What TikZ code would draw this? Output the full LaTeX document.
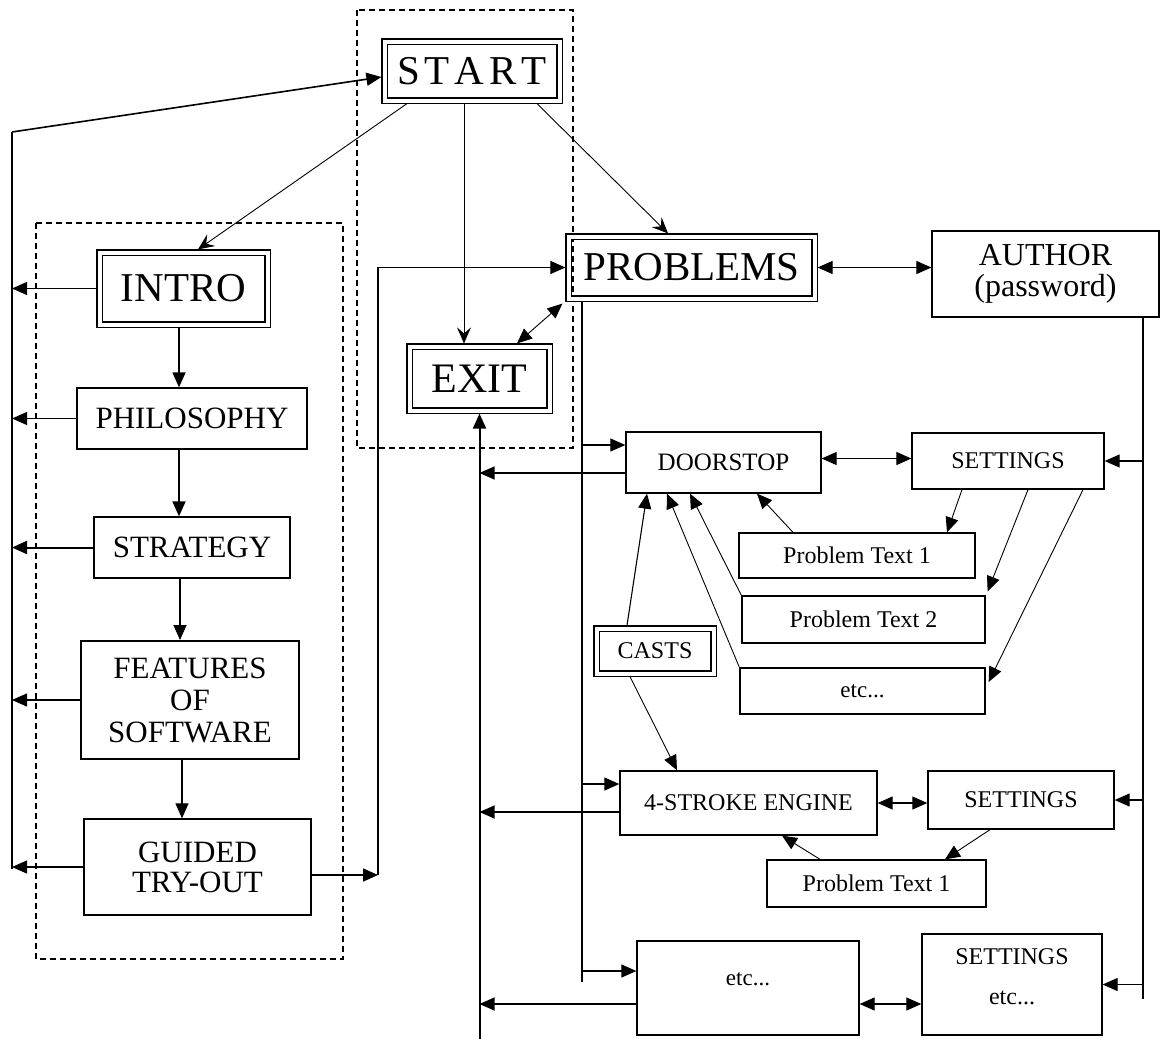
\documentclass[tikz,border=0pt]{standalone}
\usepackage{fontspec}
\setmainfont{Liberation Serif}
\usetikzlibrary{arrows.meta}
\begin{document}
\begin{tikzpicture}[x=1pt,y=-1pt,
  box/.style={draw, line width=1.3pt, inner sep=0pt, align=center, font=\fontsize{24}{32}\selectfont},
  midbox/.style={box, font=\fontsize{31}{32}\selectfont},
  dbl/.style={draw, double, double distance=4pt, line width=1.1pt, inner sep=0pt, outer sep=3.1pt, align=center, font=\fontsize{41}{44}\selectfont},
  arr/.style={-{Triangle[length=15pt,width=13pt]}, line width=1.1pt},
  barr/.style={{Triangle[length=15pt,width=13pt]}-{Triangle[length=15pt,width=13pt]}, line width=1.1pt},
  sarr/.style={-{Stealth[length=16pt,width=14pt,inset=6pt]}, line width=0.9pt},
  bus/.style={line width=2pt},
  zone/.style={draw, dash pattern=on 6pt off 4pt, line width=1.3pt}
]
\fill[white] (0,0) rectangle (1160,1039);
\useasboundingbox (0,0) rectangle (1160,1039);

% dashed zones
\draw[zone] (357,10) rectangle (573,448);
\draw[zone] (36,223) rectangle (343,959);

% double boxes
\node[dbl, minimum width=175pt, minimum height=59pt] (START) at (472,71) {S\kern5pt T\kern5pt A\kern5pt R\kern5pt T};
\node[dbl, minimum width=168pt, minimum height=72pt] (INTRO) at (183.5,288.5) {INTRO};
\node[dbl, minimum width=246pt, minimum height=62pt] (PROBLEMS) at (691.5,267.5) {PROBLEMS};
\node[dbl, minimum width=140pt, minimum height=64pt, font=\fontsize{42}{44}\selectfont] (EXIT) at (479.5,378.5) {EXIT};
\node[dbl, minimum width=117pt, minimum height=45pt, font=\fontsize{24}{28}\selectfont] (CASTS) at (655,651) {CASTS};

% left column
\node[midbox, minimum width=230pt, minimum height=61pt] (PHIL) at (192,418.5) {PHILOSOPHY};
\node[midbox, minimum width=196pt, minimum height=61pt] (STRAT) at (192,547.5) {STRATEGY};
\node[midbox, line width=2pt, minimum width=218pt, minimum height=118pt] (FEAT) at (190,700) {FEATURES\\OF\\SOFTWARE};
\node[midbox, font=\fontsize{31}{30}\selectfont, minimum width=227pt, minimum height=96pt] (GUIDED) at (197.5,867) {GUIDED\\TRY-OUT};

% right part
\node[box, font=\fontsize{32}{31}\selectfont, minimum width=227pt, minimum height=86pt] (AUTHOR) at (1045.5,274) {AUTHOR\\(password)};
\node[box, font=\fontsize{25}{30}\selectfont, minimum width=195pt, minimum height=61pt] (DOOR) at (723.5,462.5) {DOORSTOP};
\node[box, minimum width=192pt, minimum height=56pt] (S1) at (1008,461) {SETTINGS};
\node[box, minimum width=236pt, minimum height=45pt] (PT1) at (857,555.5) {Problem Text 1};
\node[box, minimum width=243pt, minimum height=47pt] (PT2) at (863.5,619.5) {Problem Text 2};
\node[box, minimum width=245pt, minimum height=46pt, font=\fontsize{23}{30}\selectfont] (ETC1) at (862.5,691) {etc...};
\node[box, minimum width=257pt, minimum height=64pt] (STROKE) at (748.5,803) {4-STROKE ENGINE};
\node[box, minimum width=186pt, minimum height=58pt] (S2) at (1021,800) {SETTINGS};
\node[box, minimum width=219pt, minimum height=47pt] (PT1B) at (876.5,883.5) {Problem Text 1};
\node[box, minimum width=222pt, minimum height=94pt, font=\fontsize{23}{30}\selectfont] (ETC2) at (748,988) {\raisebox{9pt}[\height][\depth]{etc...}};
\node[box, minimum width=180pt, minimum height=101pt] (S3) at (1012,984.5) {\raisebox{6.5pt}[\height][\depth]{\begin{tabular}{@{}c@{}}SETTINGS\\[8pt]etc...\end{tabular}}};

% bus coordinates
\coordinate (busTop) at (12,132);
\coordinate (busBot) at (12,869);
\coordinate (jL) at (378,875);
\coordinate (pBot) at (582,982);
\coordinate (eBot) at (479.5,1039);
\coordinate (aBot) at (1143,999);

% left bus
\draw[bus] (busBot) -- (busTop);
\draw[arr, line width=1.6pt] (busTop) -- ([yshift=-6pt]START.west);
\draw[arr] (INTRO.west) -- (INTRO.west -| busTop);
\draw[arr] (PHIL.west) -- (PHIL.west -| busTop);
\draw[arr, line width=2pt] (STRAT.west) -- (STRAT.west -| busTop);
\draw[arr] (FEAT.west) -- (FEAT.west -| busTop);
\draw[arr] (GUIDED.west) -- (GUIDED.west -| busTop);

% left column flow
\draw[arr, line width=1.6pt] ([xshift=-4.5pt]INTRO.south) -- ([xshift=-4.5pt]INTRO.south |- PHIL.north);
\draw[arr, line width=1.6pt] ([xshift=-13pt]PHIL.south) -- ([xshift=-13pt]PHIL.south |- STRAT.north);
\draw[arr] ([xshift=-12pt]STRAT.south) -- ([xshift=-12pt]STRAT.south |- FEAT.north);
\draw[arr] ([xshift=-8pt]FEAT.south) -- ([xshift=-8pt]FEAT.south |- GUIDED.north);
\draw[arr, line width=1.6pt] ([yshift=-8pt]GUIDED.east) -- (jL);
\draw[arr] (jL) |- (PROBLEMS.west);

% from START
\draw[sarr] ([xshift=-65pt]START.south) -- ([xshift=14.5pt]INTRO.north);
\draw[sarr] ([xshift=-8pt]START.south) -- ([xshift=-8pt]START.south |- EXIT.north);
\draw[sarr] ([xshift=65pt]START.south) -- ([xshift=-23.5pt]PROBLEMS.north);

% PROBLEMS links
\draw[barr, line width=0.9pt] ([xshift=-35.6pt]EXIT.north east) -- ([xshift=-3pt,yshift=-2pt]PROBLEMS.south west);
\draw[barr] (PROBLEMS.east) -- (PROBLEMS.east -| AUTHOR.west);

% PROBLEMS vertical bus
\draw[bus] ([xshift=16.6pt]PROBLEMS.south west) -- (pBot);
\draw[arr] ([yshift=17.5pt]DOOR.west -| pBot) -- ([yshift=17.5pt]DOOR.west);
\draw[arr] ([yshift=19pt]STROKE.west -| pBot) -- ([yshift=19pt]STROKE.west);
\draw[arr] ([yshift=17pt]ETC2.west -| pBot) -- ([yshift=17pt]ETC2.west);

% EXIT vertical bus
\draw[arr, bus] (eBot) -- (EXIT.south);
\draw[arr] ([yshift=-10.5pt]DOOR.west) -- ([yshift=-10.5pt]DOOR.west -| eBot);
\draw[arr] ([yshift=-9pt]STROKE.west) -- ([yshift=-9pt]STROKE.west -| eBot);
\draw[arr] ([yshift=-16pt]ETC2.west) -- ([yshift=-16pt]ETC2.west -| eBot);

% AUTHOR vertical bus
\draw[line width=1.2pt] (AUTHOR.south -| aBot) -- (aBot);
\draw[arr] (S1.east -| aBot) -- (S1.east);
\draw[arr] (S2.east -| aBot) -- (S2.east);
\draw[arr] (S3.east -| aBot) -- (S3.east);

% settings links
\draw[barr] ([yshift=4pt]DOOR.east) -- ([yshift=4pt]DOOR.east -| S1.west);
\draw[barr] (STROKE.east) -- (STROKE.east -| S2.west);
\draw[barr] ([yshift=-16pt]ETC2.east) -- ([yshift=-16pt]ETC2.east -| S3.west);

% doorstop group
\draw[arr, line width=0.9pt] ([xshift=-46pt]S1.south) -- ([xshift=90pt]PT1.north);
\draw[arr, line width=0.9pt] ([xshift=20pt]S1.south) -- ([xshift=2pt,yshift=4pt]PT2.north east);
\draw[arr, line width=0.9pt] ([xshift=75pt]S1.south) -- ([xshift=3pt,yshift=9pt]ETC1.east);
\draw[arr, line width=0.9pt] ([xshift=-64pt]PT1.north) -- ([xshift=33.5pt]DOOR.south);
\draw[arr, line width=0.9pt] (PT2.north west) -- ([xshift=-33.5pt]DOOR.south);
\draw[arr, line width=0.9pt] (ETC1.north west) -- ([xshift=-56.5pt]DOOR.south);
\draw[arr, line width=1.1pt] ([xshift=-28pt]CASTS.north) -- ([xshift=-76.5pt]DOOR.south);
\draw[arr, line width=0.9pt] ([xshift=-25pt]CASTS.south) -- ([xshift=-71.5pt]STROKE.north);

% engine group
\draw[arr, line width=0.9pt] ([xshift=-31pt]S2.south) -- ([xshift=68.5pt]PT1B.north);
\draw[arr, line width=0.9pt] ([xshift=-56.5pt]PT1B.north) -- ([xshift=33.5pt]STROKE.south);
\end{tikzpicture}
\end{document}
